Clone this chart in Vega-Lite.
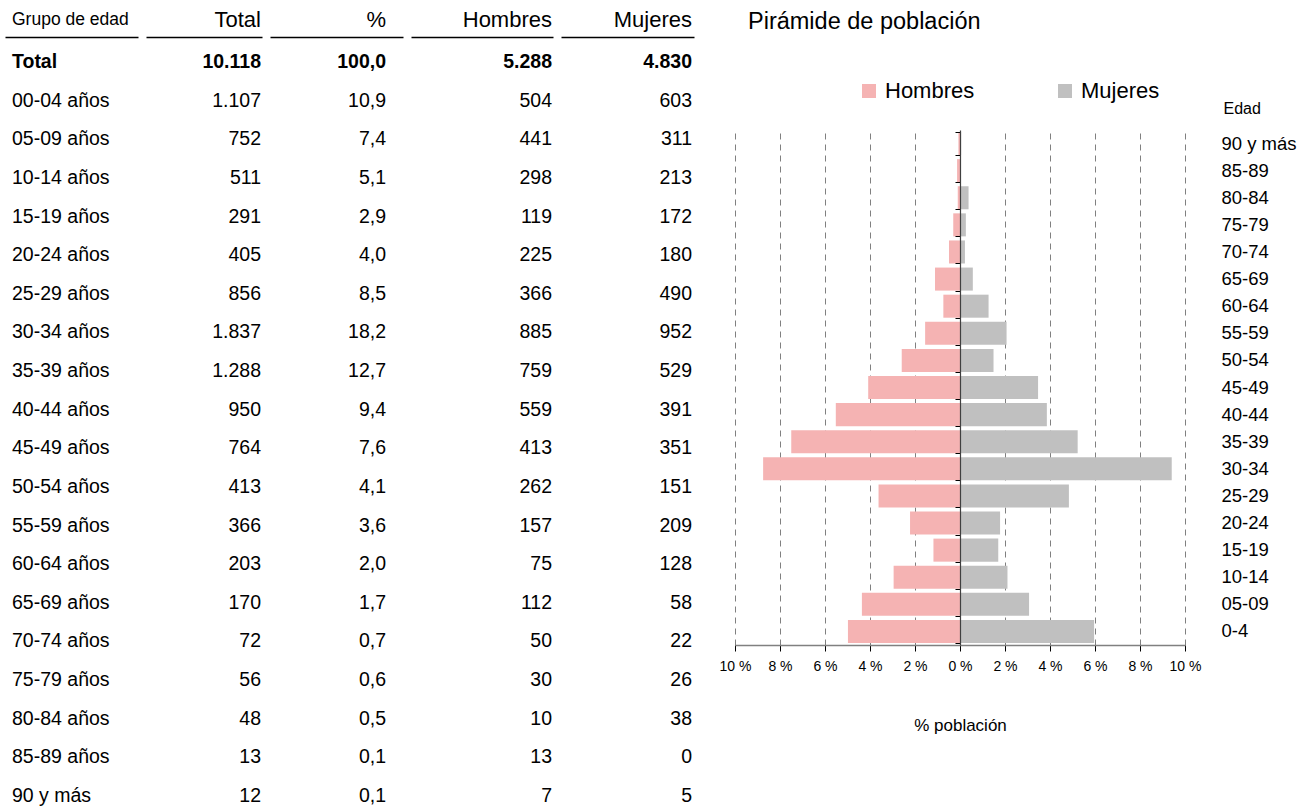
{
  "$schema": "https://vega.github.io/schema/vega-lite/v6.json",
  "background": "white",
  "padding": {"left": 5, "top": 8, "right": 0, "bottom": 0},
  "datasets": {
    "tabla": [
      {"Grupo de edad": "Total", "Total": 10118, "%": 100.0, "Hombres": 5288, "Mujeres": 4830},
      {"Grupo de edad": "00-04 años", "Total": 1107, "%": 10.9, "Hombres": 504, "Mujeres": 603},
      {"Grupo de edad": "05-09 años", "Total": 752, "%": 7.4, "Hombres": 441, "Mujeres": 311},
      {"Grupo de edad": "10-14 años", "Total": 511, "%": 5.1, "Hombres": 298, "Mujeres": 213},
      {"Grupo de edad": "15-19 años", "Total": 291, "%": 2.9, "Hombres": 119, "Mujeres": 172},
      {"Grupo de edad": "20-24 años", "Total": 405, "%": 4.0, "Hombres": 225, "Mujeres": 180},
      {"Grupo de edad": "25-29 años", "Total": 856, "%": 8.5, "Hombres": 366, "Mujeres": 490},
      {"Grupo de edad": "30-34 años", "Total": 1837, "%": 18.2, "Hombres": 885, "Mujeres": 952},
      {"Grupo de edad": "35-39 años", "Total": 1288, "%": 12.7, "Hombres": 759, "Mujeres": 529},
      {"Grupo de edad": "40-44 años", "Total": 950, "%": 9.4, "Hombres": 559, "Mujeres": 391},
      {"Grupo de edad": "45-49 años", "Total": 764, "%": 7.6, "Hombres": 413, "Mujeres": 351},
      {"Grupo de edad": "50-54 años", "Total": 413, "%": 4.1, "Hombres": 262, "Mujeres": 151},
      {"Grupo de edad": "55-59 años", "Total": 366, "%": 3.6, "Hombres": 157, "Mujeres": 209},
      {"Grupo de edad": "60-64 años", "Total": 203, "%": 2.0, "Hombres": 75, "Mujeres": 128},
      {"Grupo de edad": "65-69 años", "Total": 170, "%": 1.7, "Hombres": 112, "Mujeres": 58},
      {"Grupo de edad": "70-74 años", "Total": 72, "%": 0.7, "Hombres": 50, "Mujeres": 22},
      {"Grupo de edad": "75-79 años", "Total": 56, "%": 0.6, "Hombres": 30, "Mujeres": 26},
      {"Grupo de edad": "80-84 años", "Total": 48, "%": 0.5, "Hombres": 10, "Mujeres": 38},
      {"Grupo de edad": "85-89 años", "Total": 13, "%": 0.1, "Hombres": 13, "Mujeres": 0},
      {"Grupo de edad": "90 y más", "Total": 12, "%": 0.1, "Hombres": 7, "Mujeres": 5}
    ],
    "piramide": [
      {"edad": "0-4", "sexo": "Hombres", "pct": -4.98}, {"edad": "0-4", "sexo": "Mujeres", "pct": 5.96},
      {"edad": "05-09", "sexo": "Hombres", "pct": -4.36}, {"edad": "05-09", "sexo": "Mujeres", "pct": 3.07},
      {"edad": "10-14", "sexo": "Hombres", "pct": -2.95}, {"edad": "10-14", "sexo": "Mujeres", "pct": 2.11},
      {"edad": "15-19", "sexo": "Hombres", "pct": -1.18}, {"edad": "15-19", "sexo": "Mujeres", "pct": 1.70},
      {"edad": "20-24", "sexo": "Hombres", "pct": -2.22}, {"edad": "20-24", "sexo": "Mujeres", "pct": 1.78},
      {"edad": "25-29", "sexo": "Hombres", "pct": -3.62}, {"edad": "25-29", "sexo": "Mujeres", "pct": 4.84},
      {"edad": "30-34", "sexo": "Hombres", "pct": -8.75}, {"edad": "30-34", "sexo": "Mujeres", "pct": 9.41},
      {"edad": "35-39", "sexo": "Hombres", "pct": -7.50}, {"edad": "35-39", "sexo": "Mujeres", "pct": 5.23},
      {"edad": "40-44", "sexo": "Hombres", "pct": -5.52}, {"edad": "40-44", "sexo": "Mujeres", "pct": 3.86},
      {"edad": "45-49", "sexo": "Hombres", "pct": -4.08}, {"edad": "45-49", "sexo": "Mujeres", "pct": 3.47},
      {"edad": "50-54", "sexo": "Hombres", "pct": -2.59}, {"edad": "50-54", "sexo": "Mujeres", "pct": 1.49},
      {"edad": "55-59", "sexo": "Hombres", "pct": -1.55}, {"edad": "55-59", "sexo": "Mujeres", "pct": 2.07},
      {"edad": "60-64", "sexo": "Hombres", "pct": -0.74}, {"edad": "60-64", "sexo": "Mujeres", "pct": 1.27},
      {"edad": "65-69", "sexo": "Hombres", "pct": -1.11}, {"edad": "65-69", "sexo": "Mujeres", "pct": 0.57},
      {"edad": "70-74", "sexo": "Hombres", "pct": -0.49}, {"edad": "70-74", "sexo": "Mujeres", "pct": 0.22},
      {"edad": "75-79", "sexo": "Hombres", "pct": -0.30}, {"edad": "75-79", "sexo": "Mujeres", "pct": 0.26},
      {"edad": "80-84", "sexo": "Hombres", "pct": -0.10}, {"edad": "80-84", "sexo": "Mujeres", "pct": 0.38},
      {"edad": "85-89", "sexo": "Hombres", "pct": -0.13}, {"edad": "85-89", "sexo": "Mujeres", "pct": 0.0},
      {"edad": "90 y más", "sexo": "Hombres", "pct": -0.07}, {"edad": "90 y más", "sexo": "Mujeres", "pct": 0.05}
    ]
  },
  "spacing": 25,
  "resolve": {"legend": {"color": "independent"}},
  "hconcat": [
    {
      "spacing": 8,
      "hconcat": [
        {
          "width": 133, "height": 678,
          "data": {"name": "tabla"},
          "transform": [{"fold": ["Grupo de edad"], "as": ["col", "val"]}],
          "encoding": {
            "x": {"field": "col", "type": "nominal",
                  "scale": {"type": "band", "paddingInner": 0, "paddingOuter": 0},
                  "axis": {"orient": "top", "offset": 93, "title": null, "ticks": false, "domain": true, "domainColor": "#000", "domainWidth": 1.5,
                           "labelAngle": 0, "labelAlign": "left", "labelOffset": -59.5, "labelFontSize": 17.5, "labelPadding": 9, "labelColor": "#000", "grid": false}},
            "y": {"field": "Grupo de edad", "type": "nominal",
                  "sort": ["Total","00-04 años","05-09 años","10-14 años","15-19 años","20-24 años","25-29 años","30-34 años","35-39 años","40-44 años","45-49 años","50-54 años","55-59 años","60-64 años","65-69 años","70-74 años","75-79 años","80-84 años","85-89 años","90 y más"],
                  "axis": null, "scale": {"type": "point", "padding": 0, "range": [-68, 666]}}
          },
          "layer": [
            {"transform": [{"filter": "datum['Grupo de edad'] !== 'Total'"}],
             "mark": {"type": "text", "align": "left", "dx": -59.5, "fontSize": 19.5, "color": "#000"},
             "encoding": {"text": {"field": "val", "type": "nominal"}}},
            {"transform": [{"filter": "datum['Grupo de edad'] === 'Total'"}],
             "mark": {"type": "text", "align": "left", "dx": -59.5, "fontSize": 19.5, "fontWeight": "bold", "color": "#000"},
             "encoding": {"text": {"field": "val", "type": "nominal"}}}
          ]
        },
        {
          "width": 116, "height": 678,
          "data": {"name": "tabla"},
          "transform": [{"fold": ["Total"], "as": ["col", "val"]}],
          "encoding": {
            "x": {"field": "col", "type": "nominal",
                  "scale": {"type": "band", "paddingInner": 0, "paddingOuter": 0},
                  "axis": {"orient": "top", "offset": 93, "title": null, "ticks": false, "domain": true, "domainColor": "#000", "domainWidth": 1.5,
                           "labelAngle": 0, "labelAlign": "right", "labelOffset": 57, "labelFontSize": 22, "labelPadding": 6, "labelColor": "#000", "grid": false}},
            "y": {"field": "Grupo de edad", "type": "nominal",
                  "sort": ["Total","00-04 años","05-09 años","10-14 años","15-19 años","20-24 años","25-29 años","30-34 años","35-39 años","40-44 años","45-49 años","50-54 años","55-59 años","60-64 años","65-69 años","70-74 años","75-79 años","80-84 años","85-89 años","90 y más"],
                  "axis": null, "scale": {"type": "point", "padding": 0, "range": [-68, 666]}}
          },
          "layer": [
            {"transform": [{"filter": "datum['Grupo de edad'] !== 'Total'"}],
             "mark": {"type": "text", "align": "right", "dx": 57, "fontSize": 19.5, "color": "#000"},
             "encoding": {"text": {"field": "val", "type": "quantitative", "format": ",d"}}},
            {"transform": [{"filter": "datum['Grupo de edad'] === 'Total'"}],
             "mark": {"type": "text", "align": "right", "dx": 57, "fontSize": 19.5, "fontWeight": "bold", "color": "#000"},
             "encoding": {"text": {"field": "val", "type": "quantitative", "format": ",d"}}}
          ]
        },
        {
          "width": 133, "height": 678,
          "data": {"name": "tabla"},
          "transform": [{"fold": ["%"], "as": ["col", "val"]}],
          "encoding": {
            "x": {"field": "col", "type": "nominal",
                  "scale": {"type": "band", "paddingInner": 0, "paddingOuter": 0},
                  "axis": {"orient": "top", "offset": 93, "title": null, "ticks": false, "domain": true, "domainColor": "#000", "domainWidth": 1.5,
                           "labelAngle": 0, "labelAlign": "right", "labelOffset": 49.5, "labelFontSize": 22, "labelPadding": 6, "labelColor": "#000", "grid": false}},
            "y": {"field": "Grupo de edad", "type": "nominal",
                  "sort": ["Total","00-04 años","05-09 años","10-14 años","15-19 años","20-24 años","25-29 años","30-34 años","35-39 años","40-44 años","45-49 años","50-54 años","55-59 años","60-64 años","65-69 años","70-74 años","75-79 años","80-84 años","85-89 años","90 y más"],
                  "axis": null, "scale": {"type": "point", "padding": 0, "range": [-68, 666]}}
          },
          "layer": [
            {"transform": [{"filter": "datum['Grupo de edad'] !== 'Total'"}],
             "mark": {"type": "text", "align": "right", "dx": 49.5, "fontSize": 19.5, "color": "#000"},
             "encoding": {"text": {"field": "val", "type": "quantitative", "format": ".1f"}}},
            {"transform": [{"filter": "datum['Grupo de edad'] === 'Total'"}],
             "mark": {"type": "text", "align": "right", "dx": 49.5, "fontSize": 19.5, "fontWeight": "bold", "color": "#000"},
             "encoding": {"text": {"field": "val", "type": "quantitative", "format": ".1f"}}}
          ]
        },
        {
          "width": 142, "height": 678,
          "data": {"name": "tabla"},
          "transform": [{"fold": ["Hombres"], "as": ["col", "val"]}],
          "encoding": {
            "x": {"field": "col", "type": "nominal",
                  "scale": {"type": "band", "paddingInner": 0, "paddingOuter": 0},
                  "axis": {"orient": "top", "offset": 93, "title": null, "ticks": false, "domain": true, "domainColor": "#000", "domainWidth": 1.5,
                           "labelAngle": 0, "labelAlign": "right", "labelOffset": 70, "labelFontSize": 22, "labelPadding": 6, "labelColor": "#000", "grid": false}},
            "y": {"field": "Grupo de edad", "type": "nominal",
                  "sort": ["Total","00-04 años","05-09 años","10-14 años","15-19 años","20-24 años","25-29 años","30-34 años","35-39 años","40-44 años","45-49 años","50-54 años","55-59 años","60-64 años","65-69 años","70-74 años","75-79 años","80-84 años","85-89 años","90 y más"],
                  "axis": null, "scale": {"type": "point", "padding": 0, "range": [-68, 666]}}
          },
          "layer": [
            {"transform": [{"filter": "datum['Grupo de edad'] !== 'Total'"}],
             "mark": {"type": "text", "align": "right", "dx": 70, "fontSize": 19.5, "color": "#000"},
             "encoding": {"text": {"field": "val", "type": "quantitative", "format": ",d"}}},
            {"transform": [{"filter": "datum['Grupo de edad'] === 'Total'"}],
             "mark": {"type": "text", "align": "right", "dx": 70, "fontSize": 19.5, "fontWeight": "bold", "color": "#000"},
             "encoding": {"text": {"field": "val", "type": "quantitative", "format": ",d"}}}
          ]
        },
        {
          "width": 133, "height": 678,
          "data": {"name": "tabla"},
          "transform": [{"fold": ["Mujeres"], "as": ["col", "val"]}],
          "encoding": {
            "x": {"field": "col", "type": "nominal",
                  "scale": {"type": "band", "paddingInner": 0, "paddingOuter": 0},
                  "axis": {"orient": "top", "offset": 93, "title": null, "ticks": false, "domain": true, "domainColor": "#000", "domainWidth": 1.5,
                           "labelAngle": 0, "labelAlign": "right", "labelOffset": 64.5, "labelFontSize": 22, "labelPadding": 6, "labelColor": "#000", "grid": false}},
            "y": {"field": "Grupo de edad", "type": "nominal",
                  "sort": ["Total","00-04 años","05-09 años","10-14 años","15-19 años","20-24 años","25-29 años","30-34 años","35-39 años","40-44 años","45-49 años","50-54 años","55-59 años","60-64 años","65-69 años","70-74 años","75-79 años","80-84 años","85-89 años","90 y más"],
                  "axis": null, "scale": {"type": "point", "padding": 0, "range": [-68, 666]}}
          },
          "layer": [
            {"transform": [{"filter": "datum['Grupo de edad'] !== 'Total'"}],
             "mark": {"type": "text", "align": "right", "dx": 64.5, "fontSize": 19.5, "color": "#000"},
             "encoding": {"text": {"field": "val", "type": "quantitative", "format": ",d"}}},
            {"transform": [{"filter": "datum['Grupo de edad'] === 'Total'"}],
             "mark": {"type": "text", "align": "right", "dx": 64.5, "fontSize": 19.5, "fontWeight": "bold", "color": "#000"},
             "encoding": {"text": {"field": "val", "type": "quantitative", "format": ",d"}}}
          ]
        }
      ]
    },
    {
      "resolve": {"legend": {"color": "independent"}},
      "vconcat": [
        {
          "width": 450, "height": 515,
          "title": {"text": "Pirámide de población", "anchor": "start", "frame": "group", "dx": 13, "fontSize": 23.5, "fontWeight": "normal", "color": "#000", "offset": 47},
          "data": {"name": "piramide"},
          "layer": [
            {
              "mark": {"type": "bar"},
              "encoding": {
                "x": {"field": "pct", "type": "quantitative", "stack": null,
                      "scale": {"domain": [-10, 10], "nice": false},
                      "axis": {"orient": "bottom", "values": [-10, -8, -6, -4, -2, 0, 2, 4, 6, 8, 10],
                               "labelExpr": "abs(datum.value) + ' %'", "grid": true, "gridDash": [6, 5], "gridColor": "#808080", "gridWidth": 1,
                               "domainColor": "#808080", "domainWidth": 1.5, "tickColor": "#000", "tickSize": 6,
                               "labelFontSize": 14, "labelColor": "#000", "labelPadding": 8, "labelFlush": false, "labelOverlap": false,
                               "title": "% población", "titleFontSize": 17, "titleFontWeight": "normal", "titleColor": "#000", "titlePadding": 44}},
                "y": {"field": "edad", "type": "nominal",
                      "sort": ["90 y más","85-89","80-84","75-79","70-74","65-69","60-64","55-59","50-54","45-49","40-44","35-39","30-34","25-29","20-24","15-19","10-14","05-09","0-4"],
                      "scale": {"paddingInner": 0.15, "paddingOuter": 0.075},
                      "axis": {"orient": "right", "title": "Edad", "titleAngle": 0, "titleAlign": "left", "titleBaseline": "middle",
                               "titleX": 38, "titleY": -22, "titleFontSize": 16, "titleFontWeight": "normal", "titleColor": "#000",
                               "labelAlign": "left", "labelPadding": 36, "labelFontSize": 18.5, "labelColor": "#000",
                               "domain": false, "ticks": false, "grid": false}},
                "color": {"field": "sexo", "type": "nominal",
                          "scale": {"domain": ["Hombres", "Mujeres"], "range": ["#F5B3B3", "#C0C0C0"]},
                          "legend": {"orient": "none", "legendX": 123, "legendY": -50, "direction": "horizontal", "title": null,
                                     "symbolType": "square", "symbolSize": 196, "symbolStrokeWidth": 0,
                                     "labelFontSize": 22, "labelColor": "#000", "columnPadding": 79, "labelOffset": 5}}
              }
            },
            {
              "mark": {"type": "point", "opacity": 0},
              "encoding": {
                "x": {"field": "pct", "type": "quantitative"},
                "y": {"field": "edad", "type": "nominal",
                      "sort": ["90 y más","85-89","80-84","75-79","70-74","65-69","60-64","55-59","50-54","45-49","40-44","35-39","30-34","25-29","20-24","15-19","10-14","05-09","0-4"],
                      "axis": {"orient": "left", "offset": -225, "labels": false, "title": null, "domain": true, "domainColor": "#404040", "domainWidth": 1.2,
                               "ticks": true, "tickBand": "extent", "tickSize": 5, "tickColor": "#000", "grid": false, "zindex": 1}}
              }
            }
          ],
          "resolve": {"axis": {"y": "independent"}}
        }
      ]
    }
  ],
  "config": {
    "font": "Liberation Sans",
    "view": {"stroke": null},
    "locale": {"number": {"decimal": ",", "thousands": ".", "grouping": [3], "currency": ["", " €"]}}
  }
}
